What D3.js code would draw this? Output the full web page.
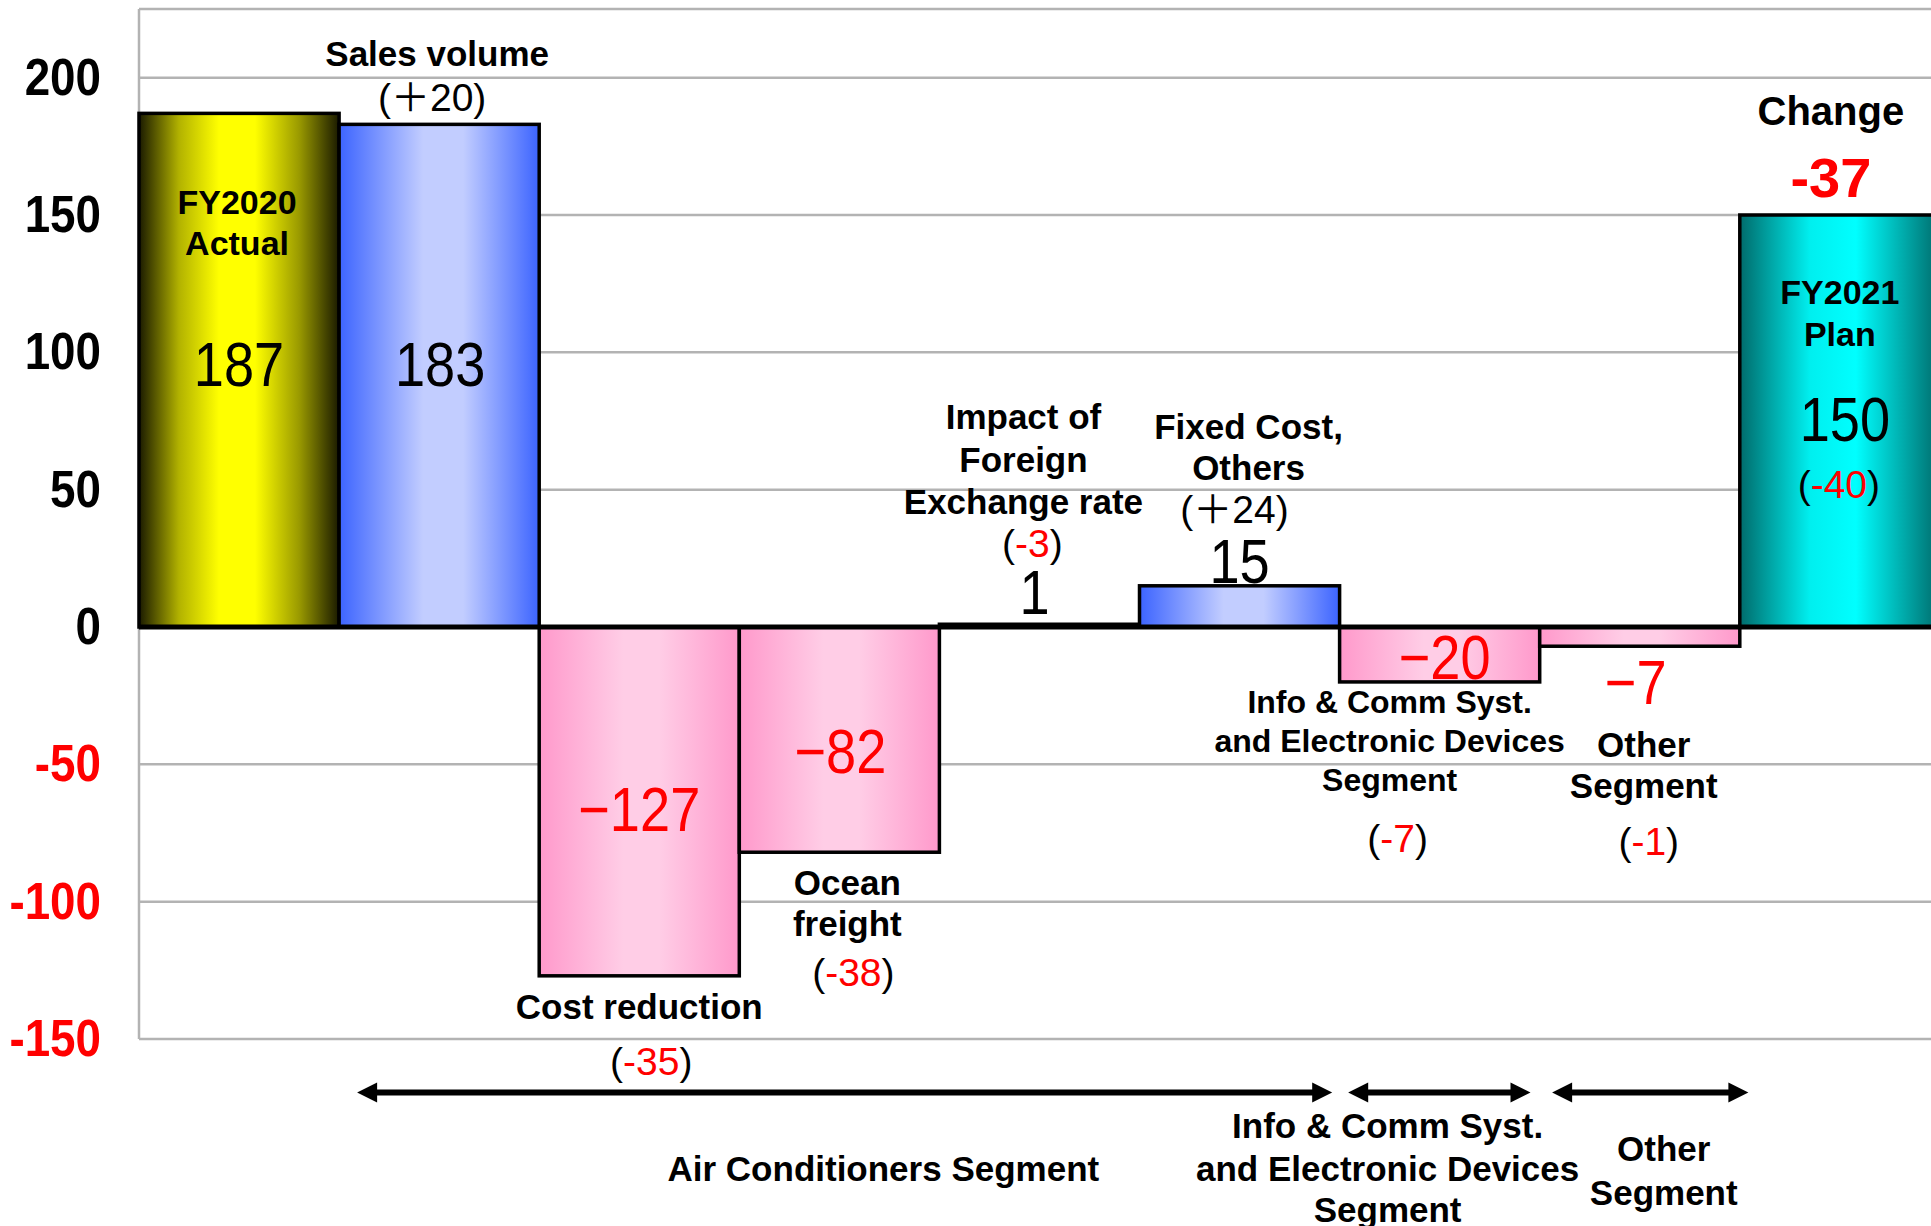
<!DOCTYPE html>
<html>
<head>
<meta charset="utf-8">
<script src="https://cdn.jsdelivr.net/npm/d3@7"></script>
<style>
  html, body { margin: 0; padding: 0; background: #fff; overflow: hidden; }
  svg { display: block; }
</style>
</head>
<body>
<svg id="chart"></svg>
<script>
// Operating income bridge, FY2020 actual -> FY2021 plan (each factor drawn from zero)
const categoryLines = [
  ["FY2020", "Actual"],
  ["Sales volume"],
  ["Cost reduction"],
  ["Ocean", "freight"],
  ["Impact of", "Foreign", "Exchange rate"],
  ["Fixed Cost,", "Others"],
  ["Info & Comm Syst.", "and Electronic Devices", "Segment"],
  ["Other", "Segment"],
  ["FY2021", "Plan"]
];
const values = [187, 183, -127, -82, 1, 15, -20, -7, 150];
const yearOnYear = [null, 20, -35, -38, -3, 24, -7, -1, -40];
const totalChange = -37;
const yTicks = [200, 150, 100, 50, 0, -50, -100, -150];
const segmentNames = [
  ["Air Conditioners Segment"],
  ["Info & Comm Syst.", "and Electronic Devices", "Segment"],
  ["Other", "Segment"]
];
const segmentBands = [[1, 5], [6, 6], [7, 7]];

const W = 1931, H = 1226;
const FONT = "'Liberation Sans', Arial, Helvetica, 'Noto Sans CJK JP', sans-serif";
const RED = "#ff0000";

const svg = d3.select("#chart").attr("width", W).attr("height", H)
  .style("font-family", FONT);

const plot = { left: 139, top: 9, bottom: 1039 };
const x = d3.scaleBand()
  .domain(d3.range(values.length))
  .range([plot.left, plot.left + 200.1 * values.length])
  .paddingInner(0).paddingOuter(0);
const bw = x.bandwidth();
const y = d3.scaleLinear().domain([-150, 225]).range([plot.bottom, plot.top]);
const xAt = t => plot.left + t * bw;           // fractional band position
const cx = i => x(i) + bw / 2;

// ---- gradients -------------------------------------------------------
const defs = svg.append("defs");
const palettes = {
  actual: [[0, "#1a1a00"], [0.2, "#b2b200"], [0.4, "#ffff00"], [0.58, "#ffff00"], [0.8, "#9a9a00"], [1, "#1a1a00"]],
  up:     [[0, "#3c64ff"], [0.42, "#c2cdff"], [0.62, "#c2cdff"], [1, "#3c64ff"]],
  down:   [[0, "#ff99cb"], [0.42, "#ffcde6"], [0.6, "#ffcde6"], [1, "#ff99cb"]],
  plan:   [[0, "#006b6b"], [0.35, "#00efef"], [0.58, "#00ffff"], [1, "#006b6b"]]
};
Object.entries(palettes).forEach(([key, stops]) => {
  const g = defs.append("linearGradient").attr("id", "g-" + key)
    .attr("x1", 0).attr("x2", 1).attr("y1", 0).attr("y2", 0);
  stops.forEach(([o, c]) => g.append("stop").attr("offset", o).attr("stop-color", c));
});
const kindOf = (v, i) => i === 0 ? "actual" : i === values.length - 1 ? "plan" : v >= 0 ? "up" : "down";

// ---- grid ------------------------------------------------------------
const grid = svg.append("g");
grid.selectAll("line.h").data(yTicks.concat([225])).join("line")
  .attr("x1", plot.left).attr("x2", W)
  .attr("y1", d => y(d)).attr("y2", d => y(d))
  .attr("stroke", "#b3b3b3").attr("stroke-width", 2.5);
grid.append("line")
  .attr("x1", plot.left).attr("x2", plot.left)
  .attr("y1", y(225)).attr("y2", y(-150))
  .attr("stroke", "#b3b3b3").attr("stroke-width", 2.5);

// ---- bars ------------------------------------------------------------
svg.append("g").selectAll("rect").data(values).join("rect")
  .attr("x", (d, i) => x(i))
  .attr("width", bw)
  .attr("y", d => y(Math.max(d, 0)))
  .attr("height", d => Math.abs(y(d) - y(0)))
  .attr("fill", (d, i) => `url(#g-${kindOf(d, i)})`)
  .attr("stroke", "#000").attr("stroke-width", 3.5);

svg.append("line")
  .attr("x1", plot.left).attr("x2", W)
  .attr("y1", y(0)).attr("y2", y(0))
  .attr("stroke", "#000").attr("stroke-width", 5);

// ---- y axis ----------------------------------------------------------
const tickSX = 0.88;
const yAxis = svg.append("g").attr("transform", `translate(${plot.left},0)`)
  .call(d3.axisLeft(y).tickValues(yTicks).tickSize(0).tickPadding(38).tickFormat(d => String(d)));
yAxis.select(".domain").remove();
yAxis.selectAll("text")
  .attr("font-family", FONT).attr("font-size", 52).attr("font-weight", "bold")
  .attr("x", -38 / tickSX)
  .attr("transform", `scale(${tickSX},1)`)
  .attr("fill", d => d < 0 ? RED : "#000");

// ---- text helpers ----------------------------------------------------
function label(px, v, str, o = {}) {
  const size = o.size || 35;
  const base = y(v) + 0.36 * size;
  const t = svg.append("text")
    .attr("text-anchor", "middle")
    .attr("font-size", size)
    .attr("font-weight", o.weight || "bold")
    .attr("fill", o.fill || "#000");
  if (o.sx) {
    t.attr("transform", `translate(${px},${base}) scale(${o.sx},1)`).attr("x", 0).attr("y", 0);
  } else {
    t.attr("x", px).attr("y", base);
  }
  if (Array.isArray(str)) {
    str.forEach(([s, c]) => t.append("tspan").attr("fill", c).text(s));
  } else {
    t.text(str);
  }
  return t;
}
const diffParts = d => d > 0
  ? [["(", "#000"], ["\uFF0B" + d, "#000"], [")", "#000"]]
  : [["(", "#000"], ["-" + Math.abs(d), RED], [")", "#000"]];

// category names
const nameLayout = [
  { dx: -2, v: [155, 139.8], size: 34 },
  { dx: -2, v: [209], size: 35 },
  { dx: 0, v: [-138], size: 35 },
  { dx: 8, v: [-93, -108], size: 35 },
  { dx: -16, v: [76.7, 61, 45.7], size: 35 },
  { dx: 9, v: [73, 58], size: 35 },
  { dx: -50, v: [-27, -41.3, -55.6], size: 32 },
  { dx: 4, v: [-42.6, -57.8], size: 35 },
  { dx: 0, v: [122, 106.7], size: 34 }
];
categoryLines.forEach((lines, i) => {
  const L = nameLayout[i];
  lines.forEach((s, k) => label(cx(i) + L.dx, L.v[k], s, { size: L.size }));
});

// year-on-year differences in brackets
const diffLayout = [null, { dx: -7, v: 193 }, { dx: 12, v: -158 }, { dx: 14, v: -125.6 },
  { dx: -7, v: 30.5 }, { dx: -5, v: 43 }, { dx: -42, v: -76.7 }, { dx: 9, v: -78 }, { dx: -1, v: 52 }];
yearOnYear.forEach((d, i) => {
  if (d === null) return;
  const L = diffLayout[i];
  label(cx(i) + L.dx, L.v, diffParts(d), { size: 39, weight: "normal" });
});

// bar values
const valueLayout = [
  { dx: 0, v: 96 }, { dx: 1, v: 96 }, { dx: 0, v: -66 }, { dx: 1, v: -45 }, { dx: -5, v: 13 },
  { dx: 0, v: 24.2 }, { dx: 5, v: -10.8 }, { dx: -4, v: -19.7 }, { dx: 5, v: 76 }
];
values.forEach((v, i) => {
  const L = valueLayout[i];
  label(cx(i) + L.dx, L.v, v < 0 ? "\u2212" + Math.abs(v) : String(v),
    { size: 63, weight: "normal", fill: v < 0 ? RED : "#000", sx: 0.86 });
});

// total change above the plan bar
const last = values.length - 1;
label(cx(last) - 9, 188, "Change", { size: 40 });
label(cx(last) - 9, 164, String(totalChange), { size: 56, fill: RED });

// ---- segment arrows --------------------------------------------------
const arrowSpans = [[1.09, 5.963], [6.043, 6.954], [7.062, 8.043]];
const segLabelAt = [3.72, 6.24, 7.62];
const segLabelV = [[-197], [-181.6, -197, -212], [-189.7, -205.8]];
const arrowV = -169.5;
const head = 20, half = 10;
const arrows = svg.append("g");
segmentBands.forEach((b, s) => {
  const [a, z] = arrowSpans[s].map(xAt);
  const yc = y(arrowV);
  arrows.append("line")
    .attr("x1", a + head - 2).attr("x2", z - head + 2)
    .attr("y1", yc).attr("y2", yc)
    .attr("stroke", "#000").attr("stroke-width", 6);
  arrows.append("path").attr("d", `M${a},${yc}L${a + head},${yc - half}L${a + head},${yc + half}Z`).attr("fill", "#000");
  arrows.append("path").attr("d", `M${z},${yc}L${z - head},${yc - half}L${z - head},${yc + half}Z`).attr("fill", "#000");
  segmentNames[s].forEach((line, k) =>
    label(xAt(segLabelAt[s]), segLabelV[s][k], line, { size: 35 }));
});
</script>
</body>
</html>
